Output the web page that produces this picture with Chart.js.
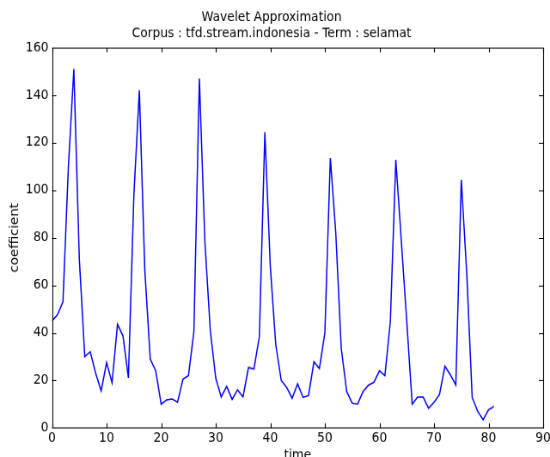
<!DOCTYPE html>
<html>
<head>
<meta charset="utf-8">
<script src="https://cdn.jsdelivr.net/npm/chart.js@4.4.0/dist/chart.umd.min.js"></script>
<style>
  html, body { margin: 0; padding: 0; background: #fff; overflow: hidden; }
  /* chart is laid out at 640x480 and squeezed into the 550x457 window */
  #wrap { width: 640px; height: 480px; transform: scale(0.859375, 0.952083); transform-origin: 0 0; }
</style>
</head>
<body>
<div id="wrap"><canvas id="myChart"></canvas></div>
<script>
// time steps 0..81
const timeSteps = [];
for (let i = 0; i <= 81; i++) timeSteps.push(i);

const coefficient = [
  45, 47.6, 53, 110, 151, 71, 30, 32, 23, 15.6,
  27.5, 19, 43.6, 38.7, 21, 98, 142, 66.5, 29, 24,
  10, 11.8, 12.2, 10.8, 20.5, 22, 40.6, 147, 79, 41,
  21, 13, 17.4, 12, 16, 13, 25.4, 24.8, 38.5, 124.4,
  68, 35, 20, 17, 12.5, 18.5, 12.8, 13.6, 27.8, 25,
  40, 113.5, 82, 33.5, 15.3, 10.4, 10, 15.3, 18, 19.2,
  24, 22, 44.8, 112.8, 79, 45, 10, 13, 13, 8.3,
  10.8, 14, 26, 22.3, 18, 104.4, 65, 12.8, 7, 3.4,
  7.6, 9
];

const xTicks = [0, 10, 20, 30, 40, 50, 60, 70, 80, 90];
const yTicks = [0, 20, 40, 60, 80, 100, 120, 140, 160];

const titleLines = ['Wavelet Approximation', 'Corpus : tfd.stream.indonesia - Term : selamat'];

// matplotlib style inward ticks on all four sides + frame
const inwardTicks = {
  id: 'inwardTicks',
  afterDatasetsDraw(chart) {
    const ctx = chart.ctx;
    const a = chart.chartArea;
    const xs = chart.scales.x, ys = chart.scales.y;
    ctx.save();
    ctx.strokeStyle = '#000';
    ctx.lineWidth = 1.1;
    ctx.beginPath();
    xTicks.forEach(v => {
      const px = Math.round(xs.getPixelForValue(v)) + 0.5;
      ctx.moveTo(px, a.bottom); ctx.lineTo(px, a.bottom - 5);
      ctx.moveTo(px, a.top); ctx.lineTo(px, a.top + 5);
    });
    yTicks.forEach(v => {
      const py = Math.round(ys.getPixelForValue(v)) + 0.5;
      ctx.moveTo(a.left, py); ctx.lineTo(a.left + 5, py);
      ctx.moveTo(a.right, py); ctx.lineTo(a.right - 5, py);
    });
    ctx.stroke();
    ctx.strokeRect(Math.round(a.left) + 0.5, Math.round(a.top) + 0.5,
      Math.round(a.right - a.left), Math.round(a.bottom - a.top));
    ctx.restore();
  }
};

const font = "'DejaVu Sans', sans-serif";

new Chart(document.getElementById('myChart'), {
  type: 'scatter',
  data: {
    datasets: [{
      data: timeSteps.map((t, i) => ({ x: t, y: coefficient[i] })),
      showLine: true,
      borderColor: '#0000ff',
      borderWidth: 1.5,
      pointRadius: 0,
      tension: 0
    }]
  },
  options: {
    responsive: true,
    maintainAspectRatio: false,
    animation: false,
    layout: { padding: { left: 0, right: 8, top: 0, bottom: -7 } },
    plugins: {
      legend: { display: false },
      tooltip: { enabled: false },
      title: {
        display: true,
        text: titleLines,
        color: '#000',
        font: { family: font, size: 14, weight: 'normal', lineHeight: 1.27 },
        padding: { top: 9, bottom: 5.4 }
      }
    },
    scales: {
      x: {
        type: 'linear',
        min: 0, max: 90,
        afterBuildTicks: s => { s.ticks = xTicks.map(v => ({ value: v })); },
        afterFit: s => { s.paddingRight = 0; },
        grid: { display: false, drawTicks: false },
        border: { display: false },
        ticks: { color: '#000', font: { family: font, size: 14 }, padding: 3, maxRotation: 0 },
        title: { display: true, text: 'time', color: '#000', font: { family: font, size: 14 }, padding: { top: -2, bottom: 0 } }
      },
      y: {
        min: 0, max: 160,
        afterBuildTicks: s => { s.ticks = yTicks.map(v => ({ value: v })); },
        grid: { display: false, drawTicks: false },
        border: { display: false },
        ticks: { color: '#000', font: { family: font, size: 14 }, padding: 4 },
        title: { display: true, text: 'coefficient', color: '#000', font: { family: font, size: 14 }, padding: { top: 9, bottom: 0 } }
      }
    }
  },
  plugins: [inwardTicks]
});
</script>
</body>
</html>
